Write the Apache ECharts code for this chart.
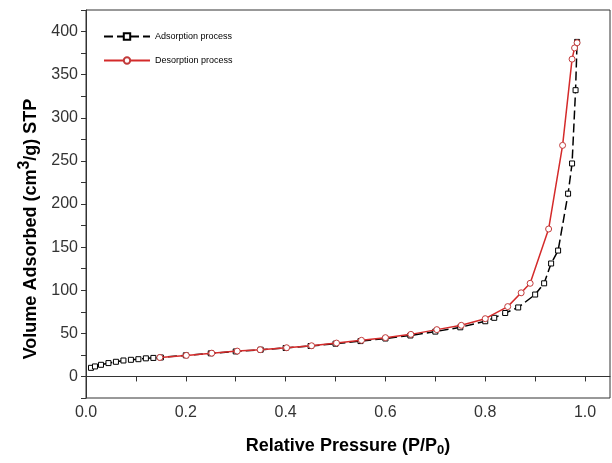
<!DOCTYPE html>
<html>
<head>
<meta charset="utf-8">
<script src="https://cdn.jsdelivr.net/npm/echarts@6/dist/echarts.min.js"></script>
<style>
html,body{margin:0;padding:0;background:#fff;}
#chart{width:612px;height:463px;}
</style>
</head>
<body>
<div id="chart"></div>
<script>
// Adsorption branch (P/P0, volume)
const adsX = [0.01, 0.018, 0.03, 0.045, 0.06, 0.075, 0.09, 0.105, 0.12, 0.135, 0.15, 0.2, 0.25, 0.3, 0.35, 0.4, 0.45, 0.5, 0.55, 0.6, 0.65, 0.7, 0.75, 0.8, 0.818, 0.84, 0.866, 0.9, 0.918, 0.932, 0.946, 0.966, 0.974, 0.981, 0.984];
const adsY = [10, 11.6, 13.5, 15.5, 17, 18.5, 19.3, 20, 21, 21.5, 22, 24.5, 26.8, 29, 31, 33, 35.3, 38, 41, 44, 47.5, 52, 57, 64, 68, 73.6, 80, 95, 108, 131, 146, 212, 247, 332, 388];
// Desorption branch
const desX = [0.984, 0.979, 0.974, 0.955, 0.927, 0.890, 0.872, 0.845, 0.80, 0.752, 0.703, 0.651, 0.600, 0.552, 0.502, 0.452, 0.402, 0.349, 0.303, 0.252, 0.201, 0.148];
const desY = [387, 381, 368, 268, 171, 108, 97, 81, 67, 59.3, 54.3, 48.8, 45, 41.9, 38.7, 35.6, 33.3, 31, 29.4, 27, 24.4, 22];
const seriesNames = ['Adsorption process', 'Desorption process'];
const xTitle = 'Relative Pressure (P/P{sub|0})';
const yTitle = 'Volume Adsorbed (cm{sup|3}/g) STP';

const zip = (a, b) => a.map((v, i) => [v, b[i]]);
const chart = echarts.init(document.getElementById('chart'));
const axisColor = '#333';
chart.setOption({
  animation: false,
  backgroundColor: '#fff',
  grid: { left: 86, right: 2, top: 10, bottom: 65, show: true, borderColor: axisColor, borderWidth: 1, containLabel: false },
  legend: {
    orient: 'vertical', left: 98, top: 27, itemWidth: 46, itemHeight: 8, itemGap: 15,
    textStyle: { fontFamily: 'Liberation Sans', fontSize: 9, color: '#000' },
    data: seriesNames
  },
  xAxis: {
    type: 'value', min: 0, max: 1.05, interval: 0.1,
    axisLine: { show: true, lineStyle: { color: axisColor, width: 1 } },
    axisTick: { show: true, length: 5, lineStyle: { color: axisColor } },
    splitLine: { show: false },
    axisLabel: {
      fontFamily: 'Liberation Sans', fontSize: 16, color: '#333', margin: 7,
      showMaxLabel: false,
      formatter: v => { const k = Math.round(v * 10); return (k % 2 === 0 && v <= 1.0001) ? (k / 10).toFixed(1) : ''; }
    },
    name: xTitle, nameLocation: 'middle', nameGap: 37,
    nameTextStyle: {
      fontFamily: 'Liberation Sans', fontSize: 18, fontWeight: 'bold', color: '#000',
      rich: { sub: { fontFamily: 'Liberation Sans', fontSize: 13, fontWeight: 'bold', color: '#000', verticalAlign: 'bottom', padding: [9, 0, 0, 0] } }
    }
  },
  yAxis: {
    type: 'value', min: -25, max: 425, interval: 25,
    axisLine: { show: true, lineStyle: { color: axisColor, width: 1 } },
    axisTick: { show: true, length: 5, lineStyle: { color: axisColor } },
    splitLine: { show: false },
    axisLabel: {
      fontFamily: 'Liberation Sans', fontSize: 16, color: '#333', margin: 8,
      formatter: v => (Math.round(v) % 50 === 0 && v <= 400) ? String(Math.round(v)) : ''
    },
    name: yTitle, nameLocation: 'middle', nameGap: 38,
    nameTextStyle: {
      fontFamily: 'Liberation Sans', fontSize: 18, fontWeight: 'bold', color: '#000', padding: [0, 50, 0, 0],
      rich: { sup: { fontFamily: 'Liberation Sans', fontSize: 16, fontWeight: 'bold', color: '#000', padding: [0, 0, 13, 0] } }
    }
  },
  series: [
    {
      name: seriesNames[0], type: 'line', data: zip(adsX, adsY),
      symbol: 'rect', symbolSize: 5, z: 2,
      lineStyle: { color: '#000', width: 1.5, type: [9, 4] },
      itemStyle: { color: '#fff', borderColor: '#000', borderWidth: 1 }
    },
    {
      name: seriesNames[1], type: 'line', data: zip(desX, desY),
      symbol: 'circle', symbolSize: 6, z: 3,
      lineStyle: { color: '#d42a2a', width: 1.5 },
      itemStyle: { color: '#fff', borderColor: '#c23a3a', borderWidth: 1 }
    }
  ]
});
</script>
</body>
</html>
